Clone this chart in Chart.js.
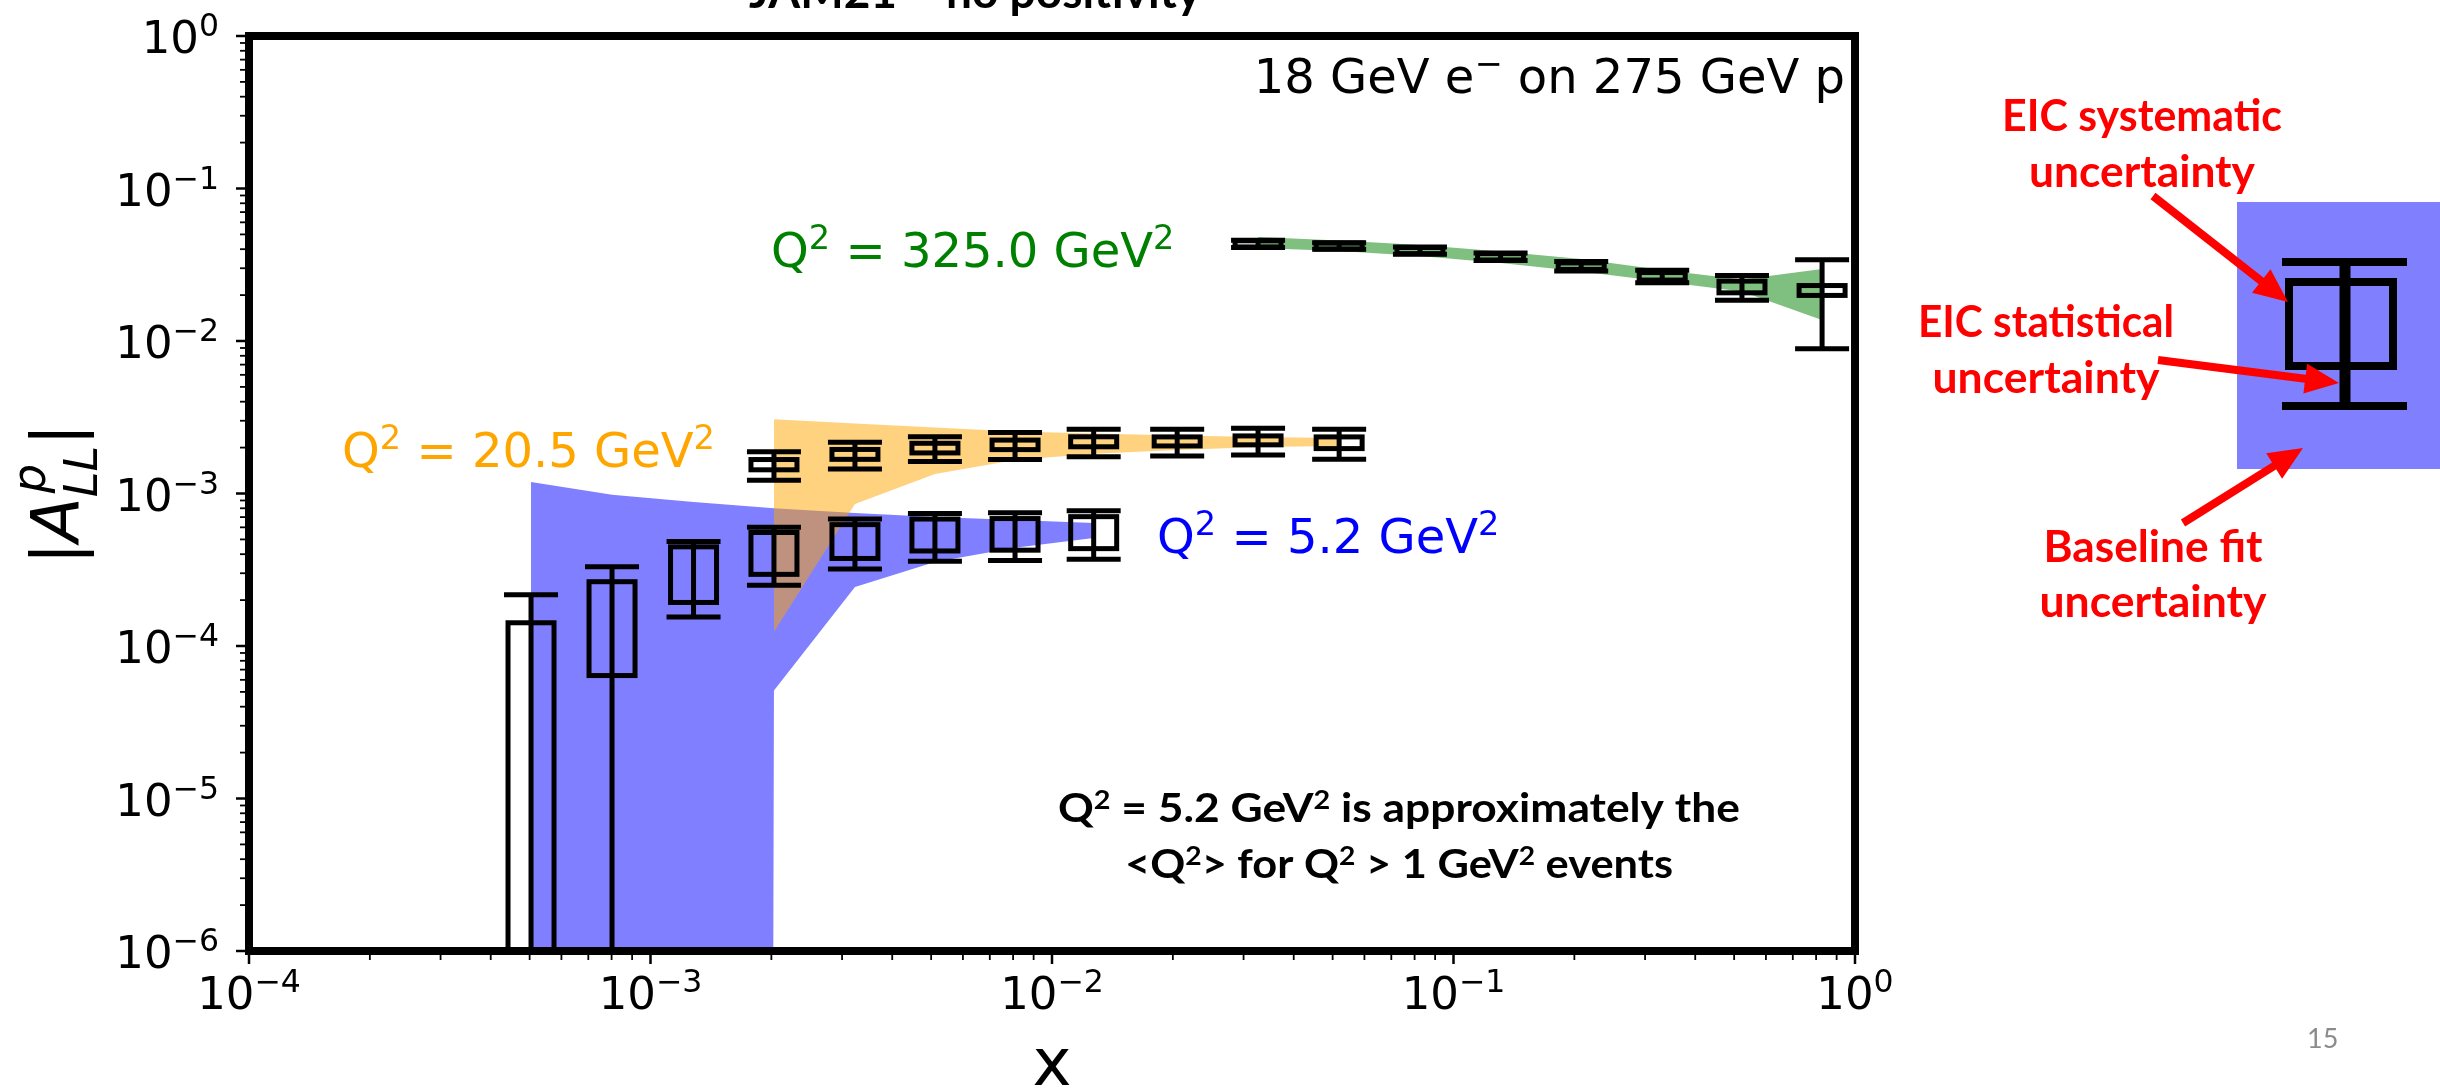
<!DOCTYPE html>
<html>
<head>
<meta charset="utf-8">
<title>EIC A_LL projection</title>
<script src="https://cdn.jsdelivr.net/npm/chart.js@4.4.1/dist/chart.umd.min.js"></script>
<style>
  html, body { margin: 0; padding: 0; background: #fff; }
  canvas { display: block; }
</style>
</head>
<body>
<canvas id="asym" width="2440" height="1088"></canvas>
<script>
// x bins for the three Q^2 slices
const xQ5 = [5.04e-4, 8.02e-4, 1.28e-3, 2.03e-3, 3.23e-3, 5.11e-3, 8.09e-3, 1.27e-2];
const xQ20 = [2.03e-3, 3.23e-3, 5.11e-3, 8.09e-3, 1.27e-2, 2.05e-2, 3.26e-2, 5.19e-2];
const xQ325 = [3.26e-2, 5.19e-2, 8.25e-2, 0.131, 0.208, 0.331, 0.523, 0.828];

// |A_LL^p| pseudo-data: central value, statistical and systematic error
const allQ5 = [6.5e-5, 1.64e-4, 3.2e-4, 4.25e-4, 5.0e-4, 5.5e-4, 5.55e-4, 5.7e-4];
const statQ5 = [1.52e-4, 1.67e-4, 1.65e-4, 1.75e-4, 1.8e-4, 1.9e-4, 1.92e-4, 2.0e-4];
const sysQ5 = [7.7e-5, 1.0e-4, 1.27e-4, 1.3e-4, 1.25e-4, 1.3e-4, 1.3e-4, 1.35e-4];

const allQ20 = [1.55e-3, 1.81e-3, 1.99e-3, 2.09e-3, 2.19e-3, 2.2e-3, 2.235e-3, 2.16e-3];
const statQ20 = [3.3e-4, 3.6e-4, 3.7e-4, 4.2e-4, 4.5e-4, 4.4e-4, 4.45e-4, 4.8e-4];
const sysQ20 = [1.2e-4, 1.35e-4, 1.45e-4, 1.5e-4, 1.65e-4, 1.5e-4, 1.5e-4, 1.9e-4];

const allQ325 = [4.34e-2, 4.20e-2, 3.92e-2, 3.57e-2, 3.10e-2, 2.66e-2, 2.27e-2, 2.15e-2];
const statQ325 = [2.3e-3, 2.1e-3, 2.1e-3, 2.0e-3, 2.2e-3, 2.5e-3, 4.2e-3, 1.26e-2];
const sysQ325 = [2.0e-3, 1.9e-3, 1.8e-3, 1.7e-3, 1.5e-3, 1.5e-3, 2.0e-3, 1.6e-3];

// JAM21 baseline fit band (upper / lower edge), null = lower edge not positive
const fitHiQ5 = [1.19e-3, 9.8e-4, 8.8e-4, 8.0e-4, 7.45e-4, 7.0e-4, 6.7e-4, 6.4e-4];
const fitLoQ5 = [null, null, null, 5.1e-5, 2.44e-4, 3.56e-4, 4.4e-4, 5.1e-4];
const fitHiQ20 = [3.07e-3, 2.88e-3, 2.71e-3, 2.55e-3, 2.47e-3, 2.40e-3, 2.35e-3, 2.31e-3];
const fitLoQ20 = [1.24e-4, 8.53e-4, 1.34e-3, 1.66e-3, 1.82e-3, 1.93e-3, 2.02e-3, 2.05e-3];
const fitHiQ325 = [4.81e-2, 4.56e-2, 4.26e-2, 3.86e-2, 3.45e-2, 2.92e-2, 2.53e-2, 2.97e-2];
const fitLoQ325 = [4.07e-2, 3.89e-2, 3.61e-2, 3.25e-2, 2.86e-2, 2.46e-2, 2.11e-2, 1.37e-2];

// axis decades
const xDecades = [-4, -3, -2, -1, 0];
const yDecades = [-6, -5, -4, -3, -2, -1, 0];

const LOG_FLOOR = 1e-300; // like a log axis, nonpositive values drop off the bottom
const MPL_FONT = '"DejaVu Sans", sans-serif';
const SLIDE_FONT = 'Lato, "Open Sans", sans-serif';

function toPoints(xs, ys) {
  return xs.map((x, i) => ({ x, y: ys[i] === null ? LOG_FLOOR : ys[i] }));
}

function band(xs, hi, lo, color, order) {
  return [
    { type: 'line', data: toPoints(xs, hi), fill: '+1', backgroundColor: color,
      borderWidth: 0, borderColor: 'transparent', pointRadius: 0, tension: 0, order },
    { type: 'line', data: toPoints(xs, lo), fill: false,
      borderWidth: 0, borderColor: 'transparent', pointRadius: 0, tension: 0, order }
  ];
}

function points(label, xs, vals, stat, sys) {
  return { type: 'scatter', label, data: toPoints(xs, vals), stat, sys,
    pointRadius: 0, showLine: false, order: 0 };
}

function logTicks(decades) {
  const t = [];
  for (let i = 0; i < decades.length - 1; i++) {
    for (let m = 1; m < 10; m++) t.push({ value: m * Math.pow(10, decades[i]) });
  }
  t.push({ value: Math.pow(10, decades[decades.length - 1]) });
  return t;
}

// split "Q^{2} = 5.2" into normal / superscript / subscript runs
function parse(str) {
  const out = [];
  const re = /([\^_])\{([^}]*)\}|([^\^_]+)/g;
  let m;
  while ((m = re.exec(str))) {
    if (m[3]) out.push({ t: m[3] });
    else out.push({ t: m[2], sup: m[1] === '^', sub: m[1] === '_' });
  }
  return out;
}

function drawRich(ctx, str, x, y, o) {
  const size = o.size;
  const pieces = parse(str).map(p => {
    const s = (p.sup || p.sub) ? size * (o.shrink || 0.7) : size;
    const font = `${o.weight || 'normal'} ${s}px ${o.family}`;
    ctx.font = font;
    const dy = p.sup ? -size * (o.raise || 0.37) : p.sub ? size * 0.2 : 0;
    return { t: p.t, font, dy, w: ctx.measureText(p.t).width };
  });
  const total = pieces.reduce((a, p) => a + p.w, 0);
  const sx = o.width ? o.width / total : 1;
  const w = total * sx;
  const left = o.align === 'right' ? x - w : o.align === 'center' ? x - w / 2 : x;
  ctx.save();
  ctx.translate(left, y);
  ctx.scale(sx, 1);
  ctx.fillStyle = o.color || '#000';
  ctx.textAlign = 'left';
  ctx.textBaseline = 'alphabetic';
  let cx = 0;
  pieces.forEach(p => {
    ctx.font = p.font;
    ctx.fillText(p.t, cx, p.dy);
    cx += p.w;
  });
  ctx.restore();
}

function drawErrors(chart, ds) {
  const ctx = chart.ctx, area = chart.chartArea;
  const xs = chart.scales.x, ys = chart.scales.y;
  const py = v => v > 0 ? ys.getPixelForValue(v) : area.bottom + 60;
  const BOX_W = 46, CAP_W = 54;
  ctx.save();
  ctx.beginPath();
  ctx.rect(area.left, area.top, area.right - area.left, area.bottom - area.top);
  ctx.clip();
  ctx.strokeStyle = '#000';
  ctx.lineWidth = 5;
  ds.data.forEach((pt, i) => {
    const v = pt.y, s = ds.stat[i], e = ds.sys[i];
    const px = xs.getPixelForValue(pt.x);
    const bt = py(v + e), bb = py(v - e);
    ctx.strokeRect(px - BOX_W / 2, bt, BOX_W, bb - bt);
    const st = py(v + s), sb = py(v - s);
    ctx.beginPath();
    ctx.moveTo(px, st); ctx.lineTo(px, sb);
    ctx.moveTo(px - CAP_W / 2, st); ctx.lineTo(px + CAP_W / 2, st);
    ctx.moveTo(px - CAP_W / 2, sb); ctx.lineTo(px + CAP_W / 2, sb);
    ctx.stroke();
  });
  ctx.restore();
}

function isDecade(v) {
  const l = Math.log10(v);
  return Math.abs(l - Math.round(l)) < 1e-9;
}

function decadeLabel(v) {
  const e = Math.round(Math.log10(v));
  return e === 0 ? '10^{0}' : `10^{\u2212${-e}}`;
}

function drawAxes(chart) {
  const ctx = chart.ctx, a = chart.chartArea;
  const xs = chart.scales.x, ys = chart.scales.y;
  ctx.save();
  ctx.strokeStyle = '#000';
  xs.ticks.forEach(t => {
    const px = xs.getPixelForValue(t.value);
    const major = isDecade(t.value);
    ctx.lineWidth = major ? 2.5 : 1.8;
    ctx.beginPath(); ctx.moveTo(px, a.bottom); ctx.lineTo(px, a.bottom + (major ? 13 : 9)); ctx.stroke();
    if (major) drawRich(ctx, decadeLabel(t.value), px, 1009, { size: 45, family: MPL_FONT, align: 'center' });
  });
  ys.ticks.forEach(t => {
    const py = ys.getPixelForValue(t.value);
    const major = isDecade(t.value);
    ctx.lineWidth = major ? 2.5 : 1.8;
    ctx.beginPath(); ctx.moveTo(a.left, py); ctx.lineTo(a.left - (major ? 13 : 9), py); ctx.stroke();
    if (major) drawRich(ctx, decadeLabel(t.value), 219, py + 17, { size: 45, family: MPL_FONT, align: 'right' });
  });
  ctx.lineWidth = 8;
  ctx.strokeRect(a.left, a.top, a.right - a.left, a.bottom - a.top);
  ctx.restore();
}

function drawAxisTitles(ctx) {
  // x
  ctx.save();
  ctx.font = `66px ${MPL_FONT}`;
  ctx.fillStyle = '#000';
  ctx.textAlign = 'center';
  ctx.fillText('x', 1052, 1085);
  ctx.restore();

  // |A^p_LL| rotated
  const F = 66;
  ctx.save();
  ctx.translate(78, 494);
  ctx.rotate(-Math.PI / 2);
  ctx.fillStyle = '#000';
  const bar = `${F}px ${MPL_FONT}`, it = `italic ${F}px ${MPL_FONT}`, itS = `italic ${F * 0.7}px ${MPL_FONT}`;
  ctx.font = bar; const wBar = ctx.measureText('|').width;
  ctx.font = it; const wA = ctx.measureText('A').width;
  ctx.font = itS; const wp = ctx.measureText('p').width, wL = ctx.measureText('LL').width;
  const wStack = Math.max(wp + 4, wL);
  let cx = -(2 * wBar + wA + wStack) / 2;
  ctx.font = bar; ctx.fillText('|', cx, 0); cx += wBar;
  ctx.font = it; ctx.fillText('A', cx, 0); cx += wA;
  ctx.font = itS; ctx.fillText('p', cx + 4, -F * 0.5); ctx.fillText('LL', cx, F * 0.29); cx += wStack;
  ctx.font = bar; ctx.fillText('|', cx, 0);
  ctx.restore();
}

function arrow(ctx, x1, y1, x2, y2) {
  const ang = Math.atan2(y2 - y1, x2 - x1);
  const headLen = 34, headW = 30;
  const c = Math.cos(ang), s = Math.sin(ang);
  const bx = x2 - headLen * c, by = y2 - headLen * s;
  ctx.strokeStyle = ctx.fillStyle = '#ff0000';
  ctx.lineWidth = 8;
  ctx.beginPath(); ctx.moveTo(x1, y1); ctx.lineTo(bx + 2 * c, by + 2 * s); ctx.stroke();
  ctx.beginPath();
  ctx.moveTo(x2, y2);
  ctx.lineTo(bx + headW / 2 * s, by - headW / 2 * c);
  ctx.lineTo(bx - headW / 2 * s, by + headW / 2 * c);
  ctx.closePath();
  ctx.fill();
}

function drawKey(ctx) {
  // enlarged marker explaining the box / bar / band
  ctx.save();
  ctx.fillStyle = '#8080ff';
  ctx.fillRect(2237, 202, 203, 267);
  ctx.strokeStyle = '#000';
  ctx.lineWidth = 8;
  ctx.strokeRect(2289, 282, 104, 84);
  ctx.beginPath();
  ctx.moveTo(2282, 262); ctx.lineTo(2407, 262);
  ctx.moveTo(2282, 406); ctx.lineTo(2407, 406);
  ctx.stroke();
  ctx.lineWidth = 11;
  ctx.beginPath(); ctx.moveTo(2345, 262); ctx.lineTo(2345, 406); ctx.stroke();
  ctx.restore();

  const red = { size: 44, family: SLIDE_FONT, weight: 'bold', color: '#ff0000', align: 'center' };
  drawRich(ctx, 'EIC systematic', 2142, 131, { ...red, width: 280 });
  drawRich(ctx, 'uncertainty', 2142, 187, { ...red, width: 226 });
  drawRich(ctx, 'EIC statistical', 2046, 337, { ...red, width: 256 });
  drawRich(ctx, 'uncertainty', 2046, 393, { ...red, width: 227 });
  drawRich(ctx, 'Baseline fit', 2153, 562, { ...red, width: 219 });
  drawRich(ctx, 'uncertainty', 2153, 617, { ...red, width: 227 });

  arrow(ctx, 2153, 196, 2288, 302);
  arrow(ctx, 2158, 360, 2339, 383);
  arrow(ctx, 2183, 523, 2303, 448);
}

const decor = {
  id: 'decor',
  afterDatasetsDraw(chart) {
    const ctx = chart.ctx;
    chart.data.datasets.filter(d => d.stat).forEach(d => drawErrors(chart, d));
    drawAxes(chart);
    drawAxisTitles(ctx);

    const mpl = { size: 48, family: MPL_FONT };
    drawRich(ctx, '18 GeV e^{\u2212} on 275 GeV p', 1845, 93, { ...mpl, align: 'right' });
    drawRich(ctx, 'Q^{2} = 325.0 GeV^{2}', 771, 267, { ...mpl, color: '#008000' });
    drawRich(ctx, 'Q^{2} = 20.5 GeV^{2}', 342, 467, { ...mpl, color: '#ffa500' });
    drawRich(ctx, 'Q^{2} = 5.2 GeV^{2}', 1157, 553, { ...mpl, color: '#0000ff' });

    const note = { size: 40, family: SLIDE_FONT, weight: 'bold', align: 'center', shrink: 0.65, raise: 0.33 };
    drawRich(ctx, 'Q^{2} = 5.2 GeV^{2} is approximately the', 1399, 822, { ...note, width: 682 });
    drawRich(ctx, '<Q^{2}> for Q^{2} > 1 GeV^{2} events', 1399, 878, { ...note, width: 548 });

    drawRich(ctx, 'JAM21 \u2013 no positivity', 975, 8, { size: 46, family: SLIDE_FONT, weight: 'bold', align: 'center' });
    drawRich(ctx, '15', 2307, 1048, { size: 27, family: SLIDE_FONT, color: '#8b8b8b' });

    drawKey(ctx);
  }
};

new Chart(document.getElementById('asym'), {
  data: {
    datasets: [
      ...band(xQ325, fitHiQ325, fitLoQ325, 'rgba(0,128,0,0.5)', 1),
      ...band(xQ20, fitHiQ20, fitLoQ20, 'rgba(255,165,0,0.5)', 2),
      ...band(xQ5, fitHiQ5, fitLoQ5, 'rgba(0,0,255,0.5)', 3),
      points('Q2 = 5.2', xQ5, allQ5, statQ5, sysQ5),
      points('Q2 = 20.5', xQ20, allQ20, statQ20, sysQ20),
      points('Q2 = 325.0', xQ325, allQ325, statQ325, sysQ325)
    ]
  },
  options: {
    responsive: false,
    animation: false,
    events: [],
    layout: { padding: { left: 0, top: 36, right: 585, bottom: 0 } },
    plugins: { legend: { display: false }, tooltip: { enabled: false } },
    scales: {
      x: {
        type: 'logarithmic',
        min: Math.pow(10, xDecades[0]),
        max: Math.pow(10, xDecades[xDecades.length - 1]),
        afterBuildTicks: s => { s.ticks = logTicks(xDecades); },
        afterFit: s => { s.height = 137; },
        grid: { display: false },
        border: { display: false },
        ticks: { display: false }
      },
      y: {
        type: 'logarithmic',
        min: Math.pow(10, yDecades[0]),
        max: Math.pow(10, yDecades[yDecades.length - 1]),
        afterBuildTicks: s => { s.ticks = logTicks(yDecades); },
        afterFit: s => { s.width = 249; },
        grid: { display: false },
        border: { display: false },
        ticks: { display: false }
      }
    }
  },
  plugins: [decor]
});
</script>
</body>
</html>
